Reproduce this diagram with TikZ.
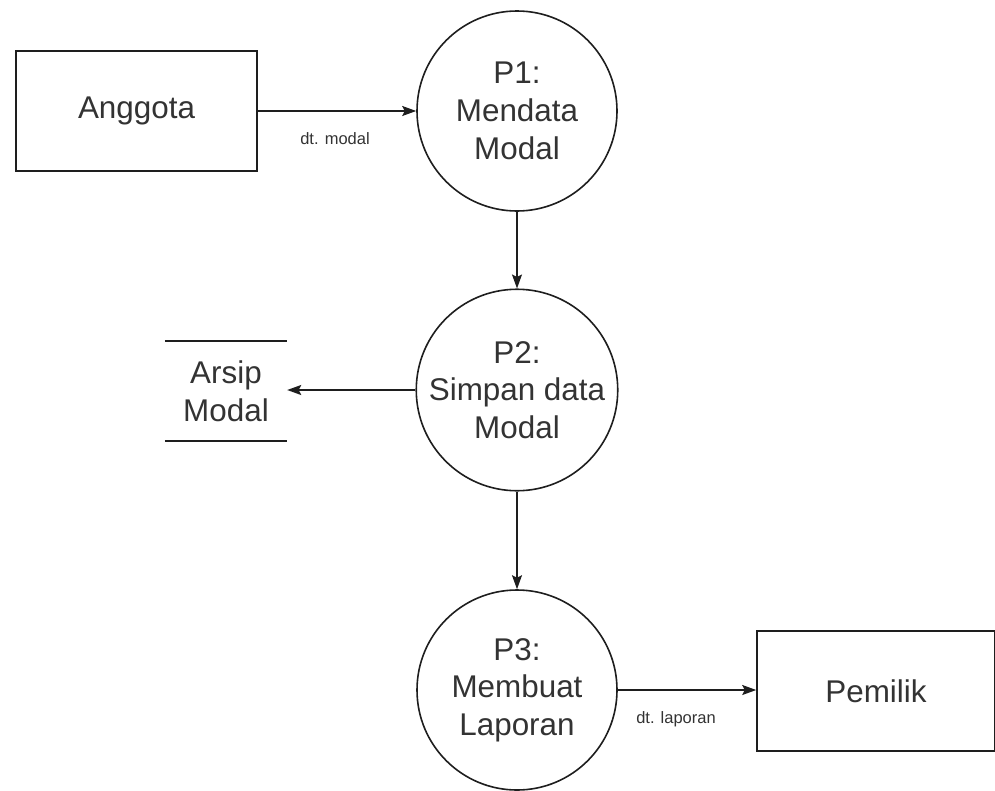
\documentclass[tikz,border=0pt]{standalone}
\usepackage{fontspec}
\setmainfont{Liberation Sans}
\usetikzlibrary{arrows.meta}
\definecolor{ink}{HTML}{1E1E1E}
\definecolor{txt}{HTML}{333333}
\tikzset{
  x=1pt, y=-1pt,
  bigtext/.style={text=txt, font=\fontsize{31.4}{37.7}\selectfont, align=center},
  entity/.style={draw=ink, line width=1.6pt, minimum width=241pt, minimum height=120pt, inner sep=0pt, bigtext},
  proc/.style={draw=ink, line width=1.6pt, circle, minimum size=200pt, inner sep=0pt, bigtext},
  store/.style={minimum width=122pt, minimum height=100pt, inner sep=0pt, bigtext},
  lbl/.style={text=txt, font=\fontsize{16.5}{19}\selectfont, inner sep=0pt},
  flow/.style={draw=ink, line width=1.6pt, -{Stealth[length=14pt, width=10pt, inset=2.5pt]}},
  edge/.style={draw=ink, line width=1.6pt}
}
\begin{document}
\begin{tikzpicture}
\useasboundingbox (0,0) rectangle (995,790);

% external entities
\node[entity] (ang) at (136.5,111) {Anggota};
\node[entity, minimum width=238pt] (pem) at (876,691) {Pemilik};

% processes
\node[proc] (p1) at (517,111) {P1:\\Mendata\\Modal};
\node[proc] (p2) at (517,390) {P2:\\Simpan data\\Modal};
\node[proc] (p3) at (517,690) {P3:\\Membuat\\Laporan};

% data store
\node[store] (ars) at (226,391) {Arsip\\Modal};
\draw[edge] (ars.north west) -- (ars.north east);
\draw[edge] (ars.south west) -- (ars.south east);

% data flows
\draw[flow] (ang.east) -- (p1.west);
\draw[flow] (p1.south) -- (p2.north);
\draw[flow] (p2.west) -- (ars.east |- p2.west);
\draw[flow] (p2.south) -- (p3.north);
\draw[flow] (p3.east) -- (pem.west |- p3.east);

% flow labels
\node[lbl] (l1) at (335,139) {dt. modal};
\node[lbl] (l2) at (676,719) {dt. laporan};
\end{tikzpicture}
\end{document}
